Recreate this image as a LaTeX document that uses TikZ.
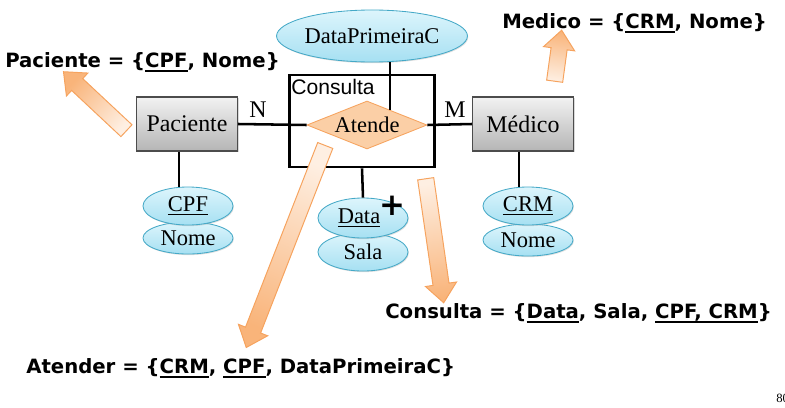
\documentclass[tikz,border=0pt]{standalone}
\usepackage{fontspec}
\setmainfont{Liberation Serif}
\newfontfamily\relfont{DejaVu Sans}
\newfontfamily\arialf{Liberation Sans}
\usetikzlibrary{calc,positioning,shapes.geometric,shapes.arrows,shadows}

\definecolor{entitytop}{HTML}{F2F2F2}
\definecolor{entitybot}{HTML}{B5B5B5}
\definecolor{attrtop}{HTML}{DDF5FC}
\definecolor{attrbot}{HTML}{A6E0F2}
\definecolor{attredge}{HTML}{45A9C7}
\definecolor{relfill}{HTML}{FBCFA6}
\definecolor{reledge}{HTML}{F6A35E}
\definecolor{arrlight}{HTML}{FEEFE2}
\definecolor{arrdark}{HTML}{F9B47A}

% thick underline for the schema lines
\newcommand{\ubar}[1]{\setbox0\hbox{#1}\rlap{\raisebox{-3.4pt}{\rule{\wd0}{1.6pt}}}\box0}
% block arrow from tail to tip
\newcommand{\blockarrow}[2]{%
  \path let \p1=(#1), \p2=(#2), \n1={atan2(\y2-\y1,\x2-\x1)}, \n2={veclen(\x2-\x1,\y2-\y1)},
    \n3={90+\n1} in
    node[blockarr, shading angle=\n3, minimum height=\n2, rotate=\n1] at ($(#1)!0.5!(#2)$) {};}

\tikzset{
  entity/.style={rectangle, draw=black!70, line width=0.8pt, top color=entitytop, bottom color=entitybot,
    minimum width=2.525cm, minimum height=1.35cm, inner sep=0pt, font=\fontsize{17}{17}\selectfont,
    drop shadow={shadow xshift=0.8pt, shadow yshift=-0.8pt, opacity=0.3}},
  attrib/.style={ellipse, draw=attredge, line width=0.6pt, top color=attrtop, bottom color=attrbot,
    minimum width=2.25cm, minimum height=0.95cm, inner sep=0pt, font=\fontsize{16}{16}\selectfont,
    drop shadow={shadow xshift=0.6pt, shadow yshift=-0.8pt, opacity=0.25}},
  nome/.style={minimum height=0.8cm},
  relation/.style={diamond, draw=reledge, line width=0.6pt, fill=relfill, aspect=2.5,
    minimum width=3cm, minimum height=1.2cm, inner sep=0pt, font=\fontsize{16}{16}\selectfont},
  consbox/.style={rectangle, draw, line width=1.9pt, minimum width=3.625cm, minimum height=2.3cm},
  card/.style={font=\fontsize{17}{17}\selectfont, inner sep=0pt},
  schema/.style={font=\relfont\bfseries\fontsize{14}{16}\selectfont, inner sep=0pt, anchor=west},
  blockarr/.style={single arrow, draw=reledge, line width=0.7pt, left color=arrlight, right color=arrdark,
    inner sep=0pt, inner ysep=0.19cm, text height=0pt, text depth=0pt,
    single arrow head extend=0.19cm, single arrow tip angle=80},
  link/.style={line width=1.8pt}
}

\begin{document}
\begin{tikzpicture}[x=0.025cm,y=-0.025cm]
  \useasboundingbox (0,0) rectangle (785,408);

  \node[attrib, minimum width=4.4cm, minimum height=1.3cm] (dpc) at (372,36) {DataPrimeiraC};
  \node[entity] (pac) at (187,124) {Paciente};
  \node[entity] (med) at (523,124) {Médico};
  \node[consbox] (cons) at (362,121) {};
  \node[anchor=north west, inner sep=0pt, font=\arialf\fontsize{15}{15}\selectfont] (conslab)
    at ([xshift=0.075cm,yshift=-0.13cm]cons.north west) {Consulta};
  \node[relation] (rel) at (367,125) {Atende};

  \node[attrib, nome] (pnome) at (188,238) {Nome};
  \node[attrib] (cpf) at (188,206) {\underline{CPF}};
  \node[attrib] (sala) at (363,252) {Sala};
  \node[attrib, minimum height=1cm] (data) at (363,218) {\hspace*{-0.2cm}\underline{Data}};
  \node[attrib, nome] (mnome) at (528,240) {Nome};
  \node[attrib] (crm) at (528,206) {\underline{CRM}};
  \node[font=\relfont\bfseries\fontsize{22}{22}\selectfont, inner sep=0pt] (plus) at (392,206) {+};

  \node[card] (n) at (258,110) {N};
  \node[card] (m) at (455,110) {M};

  \draw[link] (pac.east) -- (rel.west);
  \draw[link] (rel.east) -- (med.west);
  \draw[link] (rel.33 |- dpc.south) -- (rel.33);
  \draw[link] ([xshift=-0.2cm]pac.south) -- ([xshift=-0.2cm]pac.south |- cpf.north);
  \draw[link] ([xshift=-0.1cm]med.south) -- ([xshift=-0.1cm]med.south |- crm.north);
  \draw[link] (cons.south) -- (data.north);

  \node[schema] (pacrel) at (5,62) {Paciente = \{\ubar{CPF}, Nome\}};
  \node[schema] (medrel) at (502,23) {Medico = \{\ubar{CRM}, Nome\}};
  \node[schema] (consrel) at (385,313) {Consulta = \{\ubar{Data}, Sala, \ubar{CPF, CRM}\}};
  \node[schema] (atrel) at (26,368) {Atender = \{\ubar{CRM}, \ubar{CPF}, DataPrimeiraC\}};
  \node[anchor=west, inner sep=0pt, font=\fontsize{9}{9}\selectfont] (pg) at (776,398) {80};

  % block arrows
  \coordinate (a1) at (130,134); \coordinate (b1) at (67,75);
  \coordinate (a2) at (554,86);  \coordinate (b2) at (561,35);
  \coordinate (a3) at (425,174); \coordinate (b3) at (443,298);
  \coordinate (a4) at (327,141); \coordinate (b4) at (248,343);
  \blockarrow{a1}{b1}
  \blockarrow{a2}{b2}
  \blockarrow{a3}{b3}
  \blockarrow{a4}{b4}
\end{tikzpicture}
\end{document}
